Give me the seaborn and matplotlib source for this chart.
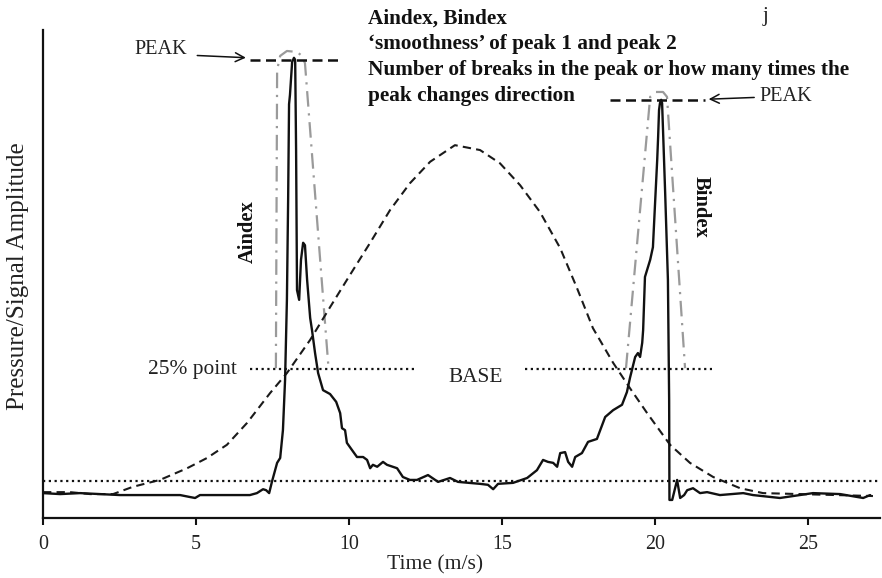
import matplotlib
matplotlib.use("Agg")
import matplotlib.pyplot as plt
import seaborn as sns
import numpy as np
import pandas as pd

# ---------------- data (time in m/s, amplitude in % of axis height) ----------------
signal_t = [0, 0.56, 1.21, 1.86, 2.52, 3.50, 4.48, 4.80, 4.97, 5.13, 6.11, 6.76, 6.99, 7.19,
            7.29, 7.39, 7.48, 7.65, 7.75, 7.84, 7.91, 7.97, 8.01, 8.04, 8.07, 8.14, 8.20,
            8.24, 8.27, 8.30, 8.37, 8.43, 8.50, 8.56, 8.63, 8.73, 8.79, 8.89, 8.99, 9.15,
            9.38, 9.58, 9.71, 9.77, 9.87, 9.93, 10.10, 10.26, 10.46, 10.59, 10.69, 10.78,
            10.92, 11.11, 11.24, 11.57, 11.76, 11.99, 12.22, 12.58, 12.91, 13.30, 13.56,
            14.28, 14.54, 14.71, 14.87, 15.36, 15.82, 16.14, 16.34, 16.50, 16.67, 16.80,
            16.90, 17.06, 17.16, 17.29, 17.39, 17.61, 17.81, 18.10, 18.37, 18.63, 18.92,
            19.08, 19.18, 19.35, 19.44, 19.51, 19.58, 19.61, 19.67, 19.84, 19.93, 20.00,
            20.07, 20.10, 20.13, 20.16, 20.20, 20.23, 20.33, 20.42, 20.46, 20.47, 20.56,
            20.72, 20.82, 20.95, 21.05, 21.24, 21.47, 21.70, 22.12, 22.88, 23.20, 24.08,
            25.16, 26.05, 26.80, 27.03]
signal_a = [5.1, 4.9, 5.1, 4.9, 4.7, 4.7, 4.7, 4.3, 4.1, 4.7, 4.7, 4.7, 5.1, 5.9,
            5.7, 5.1, 7.4, 11.3, 12.3, 18.0, 28.3, 44.7, 65.2, 84.8, 86.7, 93.4, 94.3,
            93.9, 75.4, 46.7, 44.7, 52.9, 56.4, 55.9, 48.8, 41.0, 38.5, 33.8, 29.7, 26.2,
            25.4, 23.8, 21.5, 18.4, 18.0, 15.4, 13.9, 12.5, 12.5, 11.9, 10.2, 10.9,
            10.5, 11.5, 10.9, 10.2, 8.4, 7.8, 7.8, 8.8, 7.4, 8.2, 7.4,
            7.0, 6.8, 5.9, 7.0, 7.2, 8.2, 9.8, 11.9, 11.5, 11.3, 10.5,
            13.3, 13.5, 11.5, 10.5, 12.5, 13.3, 15.6, 16.2, 20.7, 22.1, 23.2,
            25.8, 28.7, 33.0, 33.8, 33.0, 35.9, 38.5, 49.4, 52.9, 55.5, 64.5,
            73.4, 78.1, 83.6, 85.0, 85.7, 85.0, 66.6, 48.8, 24.2, 3.7, 3.7,
            7.8, 4.1, 4.7, 5.7, 6.1, 5.1, 5.3, 4.7, 5.1, 4.7, 4.1,
            5.1, 4.9, 4.1, 4.7]

pressure_t = [0, 0.88, 1.54, 2.29, 2.94, 3.82, 4.71, 5.36, 6.01, 6.67, 7.42, 7.97, 8.73,
              9.38, 10.03, 10.69, 11.34, 11.99, 12.65, 13.46, 14.28, 14.93, 15.59, 16.24,
              16.90, 17.45, 17.97, 18.63, 19.18, 19.74, 20.49, 21.14, 21.90, 22.78, 23.53,
              24.74, 27.12]
pressure_a = [5.3, 5.3, 4.9, 4.9, 6.4, 7.8, 10.2, 12.3, 15.0, 19.5, 25.6, 29.7, 36.5,
              43.2, 49.8, 56.4, 63.1, 68.6, 73.0, 76.4, 75.4, 72.7, 68.2, 62.7,
              55.3, 47.1, 38.9, 31.8, 26.6, 21.5, 15.0, 11.3, 8.4, 6.1, 5.1,
              4.9, 4.5]

aindex_t = [7.61, 7.65, 7.75, 7.97, 8.30, 8.46, 8.56, 9.33]
aindex_a = [30.7, 91.8, 94.7, 95.7, 95.5, 94.7, 93.2, 30.7]
bindex_t = [19.05, 19.84, 20.03, 20.26, 20.39, 20.98]
bindex_a = [30.7, 86.3, 87.3, 87.3, 86.3, 30.7]

base_level = 7.6
point25_level = 30.5
point25_segments = [(6.76, 12.22), (15.75, 21.86)]
peak1_level, peak1_span = 93.9, (6.76, 9.80)
peak2_level, peak2_span = 85.7, (18.53, 21.63)

xticks = [0, 5, 10, 15, 20, 25]
title_lines = ["Aindex, Bindex",
               "\u2018smoothness\u2019 of peak 1 and peak 2",
               "Number of breaks in the peak or how many times the",
               "peak changes direction"]

# ---------------- style ----------------
sns.set_theme(style="white")
plt.rcParams['font.family'] = ['Liberation Serif', 'DejaVu Serif']
plt.rcParams['axes.edgecolor'] = 'black'

fig = plt.figure(figsize=(8.82, 5.78), dpi=100)
ax = fig.add_axes([43/882, 60/578, 837/882, 488/578])

sig = pd.DataFrame({"t": signal_t, "a": signal_a})
prs = pd.DataFrame({"t": pressure_t, "a": pressure_a})
aenv = pd.DataFrame({"t": aindex_t, "a": aindex_a})
benv = pd.DataFrame({"t": bindex_t, "a": bindex_a})

grey = '#9a9a9a'
sns.lineplot(data=aenv, x="t", y="a", ax=ax, color=grey, lw=1.6, sort=False,
             estimator=None, linestyle=(0, (7, 3, 1, 3)))
sns.lineplot(data=benv, x="t", y="a", ax=ax, color=grey, lw=1.6, sort=False,
             estimator=None, linestyle=(0, (7, 3, 1, 3)))
sns.lineplot(data=prs, x="t", y="a", ax=ax, color='#1a1a1a', lw=1.5, sort=False,
             estimator=None, linestyle=(0, (4, 2.5)))
sns.lineplot(data=sig, x="t", y="a", ax=ax, color='#111111', lw=1.7, sort=False,
             estimator=None)

# horizontal reference lines
ax.axhline(base_level, color='#111111', lw=1.6, linestyle=(0, (1, 1.6)))
for x0, x1 in point25_segments:
    ax.plot([x0, x1], [point25_level, point25_level], color='#111111', lw=1.6,
            linestyle=(0, (1, 1.6)))
ax.plot(list(peak1_span), [peak1_level] * 2, color='#111111', lw=1.8, linestyle=(0, (4, 2.2)))
ax.plot(list(peak2_span), [peak2_level] * 2, color='#111111', lw=1.8, linestyle=(0, (4, 2.2)))

fs = 15
# PEAK annotations
ax.annotate("", xy=(6.72, 94.3), xytext=(4.95, 94.8),
            arrowprops=dict(arrowstyle='->', lw=1.1, color='#111111', mutation_scale=16))
ax.text(4.72, 96.1, "PEAK", ha='right', va='center', fontsize=14.6, color='#222222')
ax.annotate("", xy=(21.66, 85.8), xytext=(23.33, 86.2),
            arrowprops=dict(arrowstyle='->', lw=1.1, color='#111111', mutation_scale=16))
ax.text(23.40, 86.3, "PEAK", ha='left', va='center', fontsize=14.6, color='#222222')

ax.text(6.34, point25_level, "25% point", ha='right', va='center', fontsize=15.4, color='#222222')
ax.text(14.12, 28.7, "BASE", ha='center', va='center', fontsize=15.4, color='#222222')

ax.text(6.70, 58.6, "Aindex", rotation=90, ha='center', va='center', fontsize=14.8,
        fontweight='bold', color='#111111')
ax.text(21.50, 63.7, "Bindex", rotation=270, ha='center', va='center', fontsize=14.8,
        fontweight='bold', color='#111111')

# title block
ys = [19, 44, 70, 96]
for line, yp in zip(title_lines, ys):
    fig.text(368/882, 1 - yp/578, line, ha='left', va='center', fontsize=15.3,
             fontweight='bold', color='#111111')
fig.text(763/882, 1 - 17/578, "j", ha='left', va='center', fontsize=fs, color='#222222')

# axes
ax.set_xlim(0, 27.35)
ax.set_ylim(0, 100)
ax.set_xticks(xticks)
ax.set_xticklabels([str(v) for v in xticks], fontsize=14.4, color='#222222')
ax.set_yticks([])
ax.tick_params(axis='x', direction='out', length=5, width=1.5, color='#111111', pad=7,
               bottom=True)
for side in ['top', 'right']:
    ax.spines[side].set_visible(False)
for side in ['left', 'bottom']:
    ax.spines[side].set_linewidth(1.6)
    ax.spines[side].set_color('#111111')

ax.set_xlabel("Time (m/s)", fontsize=15.6, color='#222222')
ax.xaxis.label.set_va('center')
ax.xaxis.set_label_coords(0.469, -0.096)
ax.set_ylabel("Pressure/Signal Amplitude", fontsize=18, color='#222222')
ax.yaxis.label.set_va('center')
ax.yaxis.set_label_coords(-0.0299, 0.496)
ax.grid(False)

fig.savefig("out.png", dpi=100)
